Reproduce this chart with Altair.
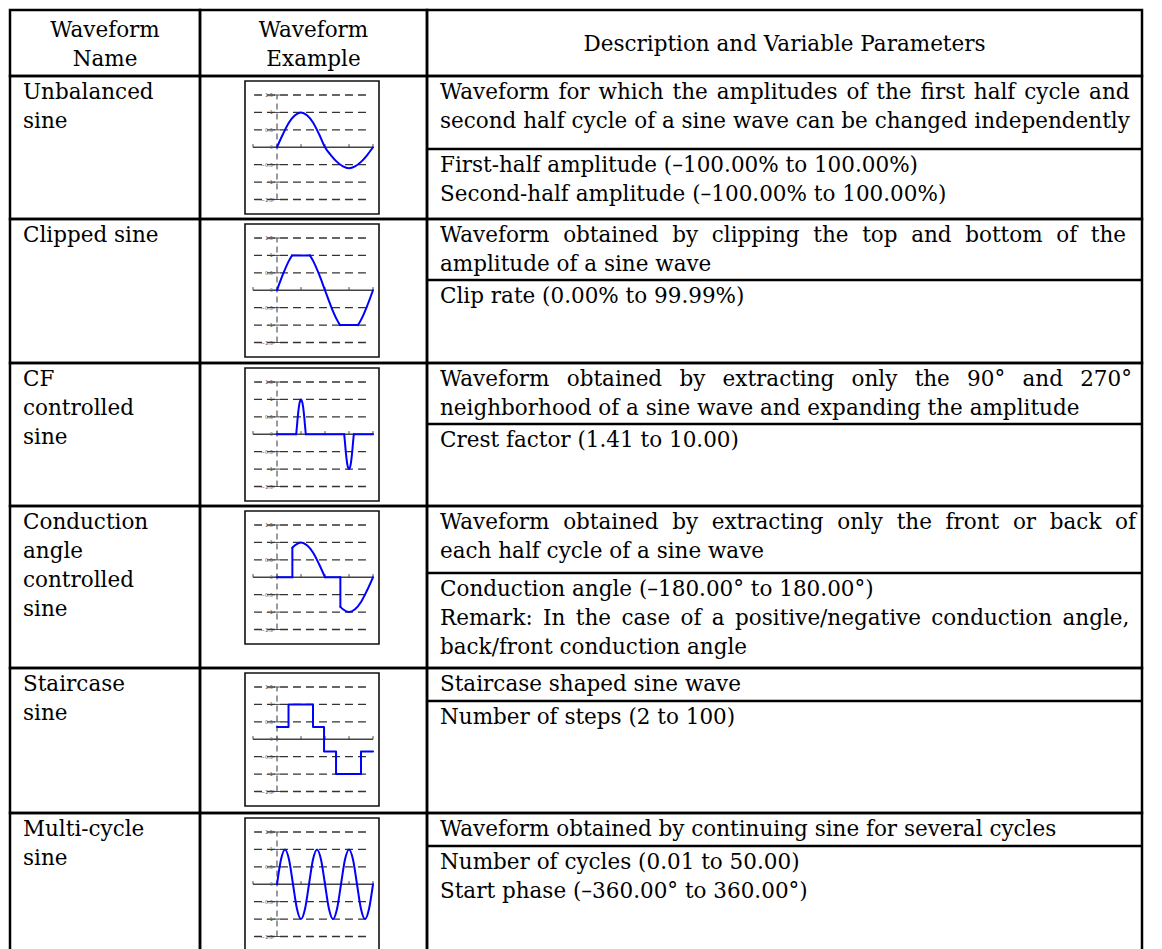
import altair as alt
import pandas as pd

# ---------------- text content ----------------
TITLE = "Steady sine group"
HEAD_NAME = ["Waveform", "Name"]
HEAD_EXAMPLE = ["Waveform", "Example"]
HEAD_DESC = "Description and Variable Parameters"

NAMES = [
    ["Unbalanced", "sine"],
    ["Clipped sine"],
    ["CF", "controlled", "sine"],
    ["Conduction", "angle", "controlled", "sine"],
    ["Staircase", "sine"],
    ["Multi-cycle", "sine"],
]
DESCRIPTIONS = [
    ["Waveform for which the amplitudes of the first half cycle and",
     "second half cycle of a sine wave can be changed independently"],
    ["Waveform obtained by clipping the top and bottom of the",
     "amplitude of a sine wave"],
    ["Waveform obtained by extracting only the 90° and 270°",
     "neighborhood of a sine wave and expanding the amplitude"],
    ["Waveform obtained by extracting only the front or back of",
     "each half cycle of a sine wave"],
    ["Staircase shaped sine wave"],
    ["Waveform obtained by continuing sine for several cycles"],
]
PARAMETERS = [
    ["First-half amplitude (–100.00% to 100.00%)",
     "Second-half amplitude (–100.00% to 100.00%)"],
    ["Clip rate (0.00% to 99.99%)"],
    ["Crest factor (1.41 to 10.00)"],
    ["Conduction angle (–180.00° to 180.00°)",
     "Remark: In the case of a positive/negative conduction angle,",
     "back/front conduction angle"],
    ["Number of steps (2 to 100)"],
    ["Number of cycles (0.01 to 50.00)",
     "Start phase (–360.00° to 360.00°)"],
]

# ---------------- waveform samples (read from the examples) ----------------
UNBAL_T = [0, .0625, .125, .1875, .25, .3125, .375, .4375, .5,
           .5625, .625, .6875, .75, .8125, .875, .9375, 1]
UNBAL_V = [0, .38, .71, .92, 1, .92, .71, .38, 0,
           -.23, -.42, -.55, -.6, -.55, -.42, -.23, 0]
UNBAL_S = [0] * 17

CLIP_T = [0, .0625, .125, .156, .156, .344, .344, .375, .4375, .5, .5625, .625, .656,
          .656, .844, .844, .875, .9375, 1]
CLIP_V = [0, .46, .85, 1, 1, 1, 1, .85, .46, 0, -.46, -.85, -1,
          -1, -1, -1, -.85, -.46, 0]
CLIP_S = [0, 0, 0, 0, 1, 1, 2, 2, 2, 2, 2, 2, 2, 3, 3, 4, 4, 4, 4]

CF_T = [0, .2, .2, .21, .22, .235, .25, .265, .28, .29, .3, .3, .7,
        .7, .71, .72, .735, .75, .765, .78, .79, .8, .8, 1]
CF_V = [0, 0, 0, .3, .6, .9, 1, .9, .6, .3, 0, 0, 0,
        0, -.3, -.6, -.9, -1, -.9, -.6, -.3, 0, 0, 0]
CF_S = [0, 0, 1, 1, 1, 1, 1, 1, 1, 1, 1, 2, 2,
        3, 3, 3, 3, 3, 3, 3, 3, 3, 4, 4]

COND_T = [0, .16, .16, .16, .16, .1875, .25, .3125, .375, .4375, .5, .5, .66,
          .66, .66, .66, .6875, .75, .8125, .875, .9375, 1]
COND_V = [0, 0, 0, .85, .85, .92, 1, .92, .71, .38, 0, 0, 0,
          0, -.85, -.85, -.92, -1, -.92, -.71, -.38, 0]
COND_S = [0, 0, 1, 1, 2, 2, 2, 2, 2, 2, 2, 3, 3,
          4, 4, 5, 5, 5, 5, 5, 5, 5]

STAIR_T = [0, .12, .375, .49, .615, .875, 1]
STAIR_V = [.35, 1, .35, -.35, -1, -.35, -.35]
STAIR_S = [0] * 7

MULTI_T = [k / 24 for k in range(25)]
MULTI_V = [0, .71, 1, .71, 0, -.71, -1, -.71,
           0, .71, 1, .71, 0, -.71, -1, -.71,
           0, .71, 1, .71, 0, -.71, -1, -.71, 0]
MULTI_S = [0] * 25

GRID_LEVELS = [1.5, 1, 0.5, -0.5, -1, -1.5]
TICK_LEVELS = [1.5, 1, 0.5, 0, -0.5, -1, -1.5]
TICK_LABELS = ["1.5", "1", "0.5", "0", "−0.5", "−1", "−1.5"]
X_TICKS = [-0.25, 0, 0.25, 0.5, 0.75, 1]

WAVES = [
    (UNBAL_T, UNBAL_V, UNBAL_S, "monotone"),
    (CLIP_T, CLIP_V, CLIP_S, "monotone"),
    (CF_T, CF_V, CF_S, "monotone"),
    (COND_T, COND_V, COND_S, "monotone"),
    (STAIR_T, STAIR_V, STAIR_S, "step-after"),
    (MULTI_T, MULTI_V, MULTI_S, "monotone"),
]

# ---------------- layout / style ----------------
FONT = "DejaVu Serif"
FS = 21.5
LH = 29
COL_W = [190, 227, 715]
HEAD_H = 66
ROW_H = [143, 144, 143, 162, 145, 145]
DESC_H = [73, 61, 61, 67, 33, 33]
# extra (non-collapsing) space added to each word gap of justified lines
JUSTIFY = {
    ("d", 0, 0): "\u200a",
    ("d", 1, 0): "\u00a0",
    ("d", 2, 0): "\u00a0\u2006",
    ("d", 3, 0): "\u00a0",
    ("p", 3, 1): "\u2006",
}
BORDER = 2.5

ONE = pd.DataFrame({"k": [0]})


def spaced(line, extra):
    return line.replace(" ", " " + extra) if extra else line


def text_layer(lines, x, y, align="left"):
    txt = lines if isinstance(lines, str) else list(lines)
    return alt.Chart(ONE).mark_text(
        font=FONT, fontSize=FS, lineHeight=LH, align=align,
        baseline="alphabetic", color="black"
    ).encode(x=alt.value(x), y=alt.value(y), text=alt.value(txt))


def wave_cell(r, h):
    t, v, s, interp = WAVES[r]
    df = pd.DataFrame({"t": t, "v": v, "seg": s, "i": list(range(len(t)))})
    top = 5
    xs = alt.Scale(domain=[-0.25, 1], range=[53, 173], nice=False, zero=False)
    ys = alt.Scale(domain=[-1.5, 1.5], range=[top + 118.5, top + 14], nice=False, zero=False)

    frame = alt.Chart(ONE).mark_rect(fill="white", stroke="#111", strokeWidth=1.6).encode(
        x=alt.value(45), x2=alt.value(179), y=alt.value(top), y2=alt.value(top + 133))
    grid = alt.Chart(pd.DataFrame({"v": GRID_LEVELS})).mark_rule(
        color="#333", strokeWidth=1.3, strokeDash=[8, 5]).encode(
        x=alt.XDatum(-0.24, scale=xs), x2=alt.datum(0.96), y=alt.Y("v:Q", scale=ys))
    zero = alt.Chart(ONE).mark_rule(color="#444", strokeWidth=1.3).encode(
        x=alt.XDatum(-0.25, scale=xs), x2=alt.datum(1.0), y=alt.YDatum(0, scale=ys))
    xt = alt.Chart(pd.DataFrame({"t": X_TICKS})).mark_rule(color="#444", strokeWidth=1).encode(
        x=alt.X("t:Q", scale=xs), y=alt.YDatum(0, scale=ys), y2=alt.datum(0.09))
    vax = alt.Chart(ONE).mark_rule(color="#666", strokeWidth=1.3, strokeDash=[6, 4]).encode(
        x=alt.XDatum(0, scale=xs), y=alt.YDatum(-1.5, scale=ys), y2=alt.datum(1.5))
    yt = alt.Chart(pd.DataFrame({"v": TICK_LEVELS})).mark_rule(color="#444", strokeWidth=1).encode(
        x=alt.XDatum(-0.03, scale=xs), x2=alt.datum(0.03), y=alt.Y("v:Q", scale=ys))
    lab = alt.Chart(pd.DataFrame({"v": TICK_LEVELS, "s": TICK_LABELS})).mark_text(
        align="right", baseline="middle", fontSize=5, color="#555", dx=-4,
        font="DejaVu Sans").encode(
        x=alt.XDatum(0, scale=xs), y=alt.Y("v:Q", scale=ys), text="s:N")
    line = alt.Chart(df).mark_line(
        color="#0000ff", strokeWidth=2, interpolate=interp,
        strokeCap="round", strokeJoin="round").encode(
        x=alt.X("t:Q", scale=xs), y=alt.Y("v:Q", scale=ys),
        detail="seg:N", order="i:Q")
    return alt.layer(frame, grid, zero, xt, vax, yt, lab, line).properties(width=COL_W[1], height=h)


def desc_cell(r):
    d = [spaced(l, JUSTIFY.get(("d", r, k))) for k, l in enumerate(DESCRIPTIONS[r])]
    p = [spaced(l, JUSTIFY.get(("p", r, k))) for k, l in enumerate(PARAMETERS[r])]
    upper = text_layer(d, 13, 23)
    divider = alt.Chart(ONE).mark_rule(color="black", strokeWidth=BORDER).encode(
        x=alt.value(0), x2=alt.value(COL_W[2]), y=alt.value(DESC_H[r]))
    lower = text_layer(p, 13, DESC_H[r] + 23)
    return alt.layer(upper, divider, lower).properties(width=COL_W[2], height=ROW_H[r])


title_mark = alt.Chart(ONE).mark_text(
    font=FONT, fontSize=FS, fontWeight="bold", align="left", baseline="alphabetic",
    color="black", clip=True).encode(x=alt.value(-8), y=alt.value(-6), text=alt.value(TITLE))

cells = [
    alt.layer(text_layer(HEAD_NAME, COL_W[0] / 2, 27, align="center"), title_mark
              ).properties(width=COL_W[0], height=HEAD_H),
    text_layer(HEAD_EXAMPLE, COL_W[1] / 2, 27, align="center").properties(width=COL_W[1], height=HEAD_H),
    text_layer(HEAD_DESC, COL_W[2] / 2, 41, align="center").properties(width=COL_W[2], height=HEAD_H),
]
for r in range(len(NAMES)):
    cells.append(text_layer(NAMES[r], 13, 23).properties(width=COL_W[0], height=ROW_H[r]))
    cells.append(wave_cell(r, ROW_H[r]))
    cells.append(desc_cell(r))

chart = alt.concat(*cells, columns=3, spacing=0, bounds="flush").properties(
    padding=0
).configure_view(
    stroke="black", strokeWidth=BORDER
).configure_axis(disable=True)

chart.save("out.html", embed_options={"renderer": "svg", "actions": False})
